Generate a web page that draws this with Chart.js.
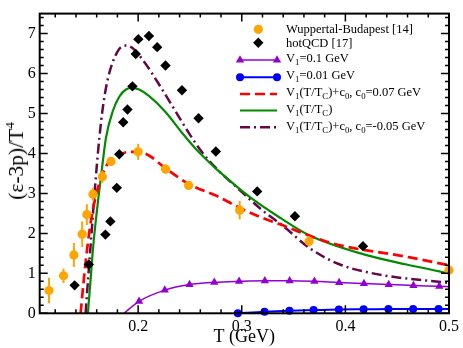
<!DOCTYPE html>
<html><head><meta charset="utf-8">
<script src="https://cdn.jsdelivr.net/npm/chart.js@4.4.1/dist/chart.umd.min.js"></script>
<style>
html,body{margin:0;padding:0;background:#fff;}
#wrap{position:relative;width:463px;height:348px;overflow:hidden;}
#c{position:absolute;left:0;top:0;}
.lg{position:absolute;left:286px;font-family:"Liberation Serif","Times New Roman",serif;font-size:12.5px;line-height:14px;color:#000;white-space:nowrap;}
.lg sub{font-size:70%;vertical-align:-3px;line-height:0;}
#ytitle{position:absolute;left:16px;top:161px;transform:translate(-50%,-50%) rotate(-90deg);font-family:"Liberation Serif","Times New Roman",serif;font-size:21.5px;white-space:nowrap;color:#000;line-height:22px;}
#ytitle sup{font-size:60%;vertical-align:9px;line-height:0;}
</style></head>
<body><div id="wrap"><canvas id="c" width="463" height="348"></canvas>
<div id="ytitle">(ε-3p)/T<sup>4</sup></div>
<div class="lg" style="top:22.2px">Wuppertal-Budapest [14]</div>
<div class="lg" style="top:35.6px">hotQCD [17]</div>
<div class="lg" style="top:51.4px">V<sub>1</sub>=0.1 GeV</div>
<div class="lg" style="top:68.4px">V<sub>1</sub>=0.01 GeV</div>
<div class="lg" style="top:85.4px">V<sub>1</sub>(T/T<sub>C</sub>)+c<sub>0</sub>, c<sub>0</sub>=0.07 GeV</div>
<div class="lg" style="top:101.7px">V<sub>1</sub>(T/T<sub>C</sub>)</div>
<div class="lg" style="top:118.9px">V<sub>1</sub>(T/T<sub>C</sub>)+c<sub>0</sub>, c<sub>0</sub>=-0.05 GeV</div>
</div>
<script>
// ---- axis ----
const X_MIN = 0.105, X_MAX = 0.5, Y_MIN = 0, Y_MAX = 7.5;
const X_TICKS = [0.2, 0.3, 0.4, 0.5];
const Y_TICKS = [0, 1, 2, 3, 4, 5, 6, 7];
const X_MINOR_STEP = 0.02, Y_MINOR_STEP = 0.2;

// ---- Wuppertal-Budapest [14] ----
const wbT   = [0.114, 0.128, 0.138, 0.146, 0.1505, 0.1564, 0.1655, 0.1738, 0.200, 0.2264, 0.2487, 0.298, 0.365, 0.500];
const wbV   = [0.57, 0.94, 1.46, 1.98, 2.47, 2.98, 3.42, 3.80, 4.04, 3.61, 3.20, 2.58, 1.80, 1.08];
const wbErr = [0.32, 0.18, 0.30, 0.32, 0.26, 0.16, 0.15, 0.10, 0.20, 0.12, 0.08, 0.23, 0.13, 0.05];

// ---- hotQCD [17] ----
const hqT = [0.1387, 0.1524, 0.1684, 0.1732, 0.1794, 0.1818, 0.1856, 0.1897, 0.1945, 0.1977, 0.2002, 0.2104, 0.2184, 0.2264, 0.2423, 0.2583, 0.2750, 0.3149, 0.3513, 0.4170];
const hqV = [0.70, 1.22, 1.97, 2.30, 3.14, 3.98, 4.78, 5.10, 5.68, 6.49, 6.86, 6.94, 6.66, 6.20, 5.58, 4.88, 4.05, 3.05, 2.43, 1.68];

// ---- V1 = 0.1 GeV (first and last entries are curve ends without marker) ----
const v01T = [0.1863, 0.2009, 0.2257, 0.2496, 0.2735, 0.2974, 0.3223, 0.3462, 0.3701, 0.394, 0.4179, 0.4418, 0.4657, 0.4906, 0.500];
const v01V = [0.00, 0.30, 0.58, 0.72, 0.775, 0.80, 0.815, 0.815, 0.80, 0.77, 0.745, 0.72, 0.695, 0.675, 0.665];

// ---- V1 = 0.01 GeV (last entry is curve end without marker) ----
const v001T = [0.2962, 0.322, 0.346, 0.3693, 0.3937, 0.4176, 0.4415, 0.4654, 0.4899, 0.500];
const v001V = [0.00, 0.04, 0.065, 0.08, 0.095, 0.10, 0.105, 0.11, 0.11, 0.11];

// ---- V1(T/Tc)+c0, c0=0.07 GeV ----
const c007T = [0.1445, 0.1474, 0.1512, 0.155, 0.1598, 0.1655, 0.1722, 0.1818, 0.1913, 0.2009, 0.2104, 0.2264, 0.2487, 0.2773, 0.2964, 0.3186, 0.3376, 0.3544, 0.389, 0.4622, 0.500];
const c007V = [0.00, 0.80, 1.70, 2.40, 3.00, 3.48, 3.80, 3.97, 4.04, 4.04, 3.95, 3.63, 3.24, 2.92, 2.66, 2.40, 2.22, 2.05, 1.74, 1.40, 1.20];

// ---- V1(T/Tc) ----
const vtcT = [0.1515, 0.154, 0.1562, 0.1595, 0.1643, 0.169, 0.1754, 0.1818, 0.1882, 0.1945, 0.2009, 0.2104, 0.2264, 0.2423, 0.2583, 0.2678, 0.2773, 0.3092, 0.3376, 0.3644, 0.417, 0.459, 0.500];
const vtcV = [0.00, 0.80, 1.55, 2.40, 3.45, 4.40, 5.05, 5.42, 5.60, 5.64, 5.60, 5.44, 5.04, 4.52, 4.04, 3.80, 3.57, 2.88, 2.38, 1.96, 1.48, 1.22, 1.00];

// ---- V1(T/Tc)+c0, c0=-0.05 GeV ----
const cm005T = [0.1493, 0.1521, 0.155, 0.1579, 0.1626, 0.1658, 0.1706, 0.1801, 0.1882, 0.1945, 0.2073, 0.2184, 0.2327, 0.2487, 0.2614, 0.2726, 0.2965, 0.3188, 0.3411, 0.365, 0.393, 0.4303, 0.500];
const cm005V = [0.00, 1.00, 2.00, 3.00, 4.40, 5.12, 5.85, 6.55, 6.70, 6.64, 6.24, 5.80, 5.20, 4.52, 4.04, 3.70, 3.12, 2.60, 2.16, 1.64, 1.24, 0.98, 0.76];

const zip = (xs, ys) => xs.map((x, i) => ({x: x, y: ys[i]}));
const FONT = '"Liberation Serif", "Times New Roman", serif';
Chart.defaults.font.family = FONT;
Chart.defaults.color = '#000';

const C_OR = '#FFA500', C_VI = '#9400D3', C_BL = '#0000FF', C_RD = '#FF0000', C_GR = '#008B00', C_MA = '#670748';

const datasets = [
  {label: 'Wuppertal-Budapest [14]', data: zip(wbT, wbV), showLine: false, pointStyle: 'circle', pointRadius: 4.6, backgroundColor: C_OR, borderColor: C_OR, borderWidth: 0, clip: false},
  {label: 'hotQCD [17]', data: zip(hqT, hqV), showLine: false, pointStyle: 'rectRot', pointRadius: 5.2, backgroundColor: '#000', borderColor: '#000', borderWidth: 0, clip: false},
  {label: 'V1=0.1 GeV', data: zip(v01T, v01V), showLine: true, borderColor: C_VI, backgroundColor: C_VI, borderWidth: 1.5, pointStyle: 'triangle',
    pointRadius: c => (c.dataIndex === 0 || c.dataIndex === v01T.length - 1) ? 0 : 4.8, pointBorderWidth: 0, cubicInterpolationMode: 'monotone', clip: false},
  {label: 'V1=0.01 GeV', data: zip(v001T, v001V), showLine: true, borderColor: C_BL, backgroundColor: C_BL, borderWidth: 2, pointStyle: 'circle',
    pointRadius: c => (c.dataIndex === v001T.length - 1) ? 0 : 4, pointBorderWidth: 0, cubicInterpolationMode: 'monotone', clip: false},
  {label: 'V1(T/TC)+c0, c0=0.07 GeV', data: zip(c007T, c007V), showLine: true, borderColor: C_RD, borderWidth: 2.7, borderDash: [10, 5], pointRadius: 0, cubicInterpolationMode: 'monotone'},
  {label: 'V1(T/TC)', data: zip(vtcT, vtcV), showLine: true, borderColor: C_GR, borderWidth: 2.2, pointRadius: 0, cubicInterpolationMode: 'monotone'},
  {label: 'V1(T/TC)+c0, c0=-0.05 GeV', data: zip(cm005T, cm005V), showLine: true, borderColor: C_MA, borderWidth: 2.5, borderDash: [10, 4, 2, 4], pointRadius: 0, cubicInterpolationMode: 'monotone'}
];

function drawMarker(ctx, style, x, y, r, color) {
  ctx.save(); ctx.fillStyle = color; ctx.beginPath();
  if (style === 'circle') { ctx.arc(x, y, r, 0, Math.PI * 2); }
  else if (style === 'rectRot') { ctx.moveTo(x, y - r); ctx.lineTo(x + r, y); ctx.lineTo(x, y + r); ctx.lineTo(x - r, y); ctx.closePath(); }
  else if (style === 'triangle') { for (let k = 0; k < 3; k++) { const a = k * 2 * Math.PI / 3; ctx.lineTo(x + Math.sin(a) * r, y - Math.cos(a) * r); } ctx.closePath(); }
  ctx.fill(); ctx.restore();
}

const errorBars = {
  id: 'errorBars',
  beforeDatasetDraw(chart, args) {
    if (args.index !== 0) return;
    const {ctx, scales: {x, y}} = chart;
    ctx.save(); ctx.strokeStyle = C_OR; ctx.lineWidth = 2;
    wbT.forEach((t, i) => {
      const px = x.getPixelForValue(t);
      ctx.beginPath();
      ctx.moveTo(px, y.getPixelForValue(wbV[i] - wbErr[i]));
      ctx.lineTo(px, y.getPixelForValue(wbV[i] + wbErr[i]));
      ctx.stroke();
    });
    ctx.restore();
  }
};

const frame = {
  id: 'frame',
  afterDatasetsDraw(chart) {
    const {ctx, chartArea: a, scales: {x, y}} = chart;
    ctx.save(); ctx.strokeStyle = '#000';
    ctx.lineWidth = 1.5;
    ctx.beginPath();
    const xt = (v, L) => { const p = x.getPixelForValue(v); ctx.moveTo(p, a.bottom); ctx.lineTo(p, a.bottom - L); ctx.moveTo(p, a.top); ctx.lineTo(p, a.top + L); };
    const yt = (v, L) => { const p = y.getPixelForValue(v); ctx.moveTo(a.left, p); ctx.lineTo(a.left + L, p); ctx.moveTo(a.right, p); ctx.lineTo(a.right - L, p); };
    for (let k = Math.ceil(X_MIN / X_MINOR_STEP); k * X_MINOR_STEP < X_MAX - 1e-9; k++) xt(k * X_MINOR_STEP, 4);
    X_TICKS.forEach(v => xt(v, 8));
    for (let k = 1; k * Y_MINOR_STEP < Y_MAX - 1e-9; k++) yt(k * Y_MINOR_STEP, 4);
    Y_TICKS.forEach(v => yt(v, 8));
    ctx.stroke();
    ctx.lineWidth = 2;
    ctx.strokeRect(a.left, a.top, a.right - a.left, a.bottom - a.top);
    ctx.restore();
  },
  afterDraw(chart) {
    const {ctx} = chart;
    const ds = chart.data.datasets;
    const x0 = 240, x1 = 277, xm = 258.3;
    drawMarker(ctx, 'circle', xm, 29.3, 4.6, C_OR);
    drawMarker(ctx, 'rectRot', xm, 42.7, 5.2, '#000');
    const line = (d, yy) => {
      ctx.save(); ctx.strokeStyle = d.borderColor; ctx.lineWidth = d.borderWidth; ctx.setLineDash(d.borderDash || []);
      ctx.beginPath(); ctx.moveTo(x0, yy); ctx.lineTo(x1, yy); ctx.stroke(); ctx.restore();
    };
    line(ds[2], 60); drawMarker(ctx, 'triangle', x0, 60, 4.8, C_VI); drawMarker(ctx, 'triangle', x1, 60, 4.8, C_VI);
    line(ds[3], 77.3); drawMarker(ctx, 'circle', x0, 77.3, 4, C_BL); drawMarker(ctx, 'circle', x1, 77.3, 4, C_BL);
    line(ds[4], 94); line(ds[5], 110.5); line(ds[6], 127.3);
  }
};

new Chart(document.getElementById('c'), {
  type: 'scatter',
  data: {datasets: datasets},
  options: {
    responsive: false, animation: false, devicePixelRatio: 1,
    layout: {padding: {left: 0, right: 10, top: 1.7, bottom: 0}},
    plugins: {legend: {display: false}, tooltip: {enabled: false}},
    scales: {
      x: {type: 'linear', min: X_MIN, max: X_MAX,
        afterFit(s) { s.height = 34.7; },
        afterBuildTicks(s) { s.ticks = X_TICKS.map(v => ({value: v})); },
        grid: {display: false, drawTicks: false}, border: {display: false},
        ticks: {font: {family: FONT, size: 16}, color: '#000', padding: 4, maxRotation: 0, autoSkip: false, callback: v => v.toFixed(1)},
        title: {display: true, text: 'T (GeV)', font: {family: FONT, size: 18}, color: '#000', padding: {top: 0, bottom: 0}}
      },
      y: {type: 'linear', min: Y_MIN, max: Y_MAX,
        afterFit(s) { s.width = 39.7; },
        afterBuildTicks(s) { s.ticks = Y_TICKS.map(v => ({value: v})); },
        grid: {display: false, drawTicks: false}, border: {display: false},
        ticks: {font: {family: FONT, size: 16}, color: '#000', padding: 4, autoSkip: false, callback: v => String(v)}
      }
    }
  },
  plugins: [errorBars, frame]
});
</script>
</body></html>
